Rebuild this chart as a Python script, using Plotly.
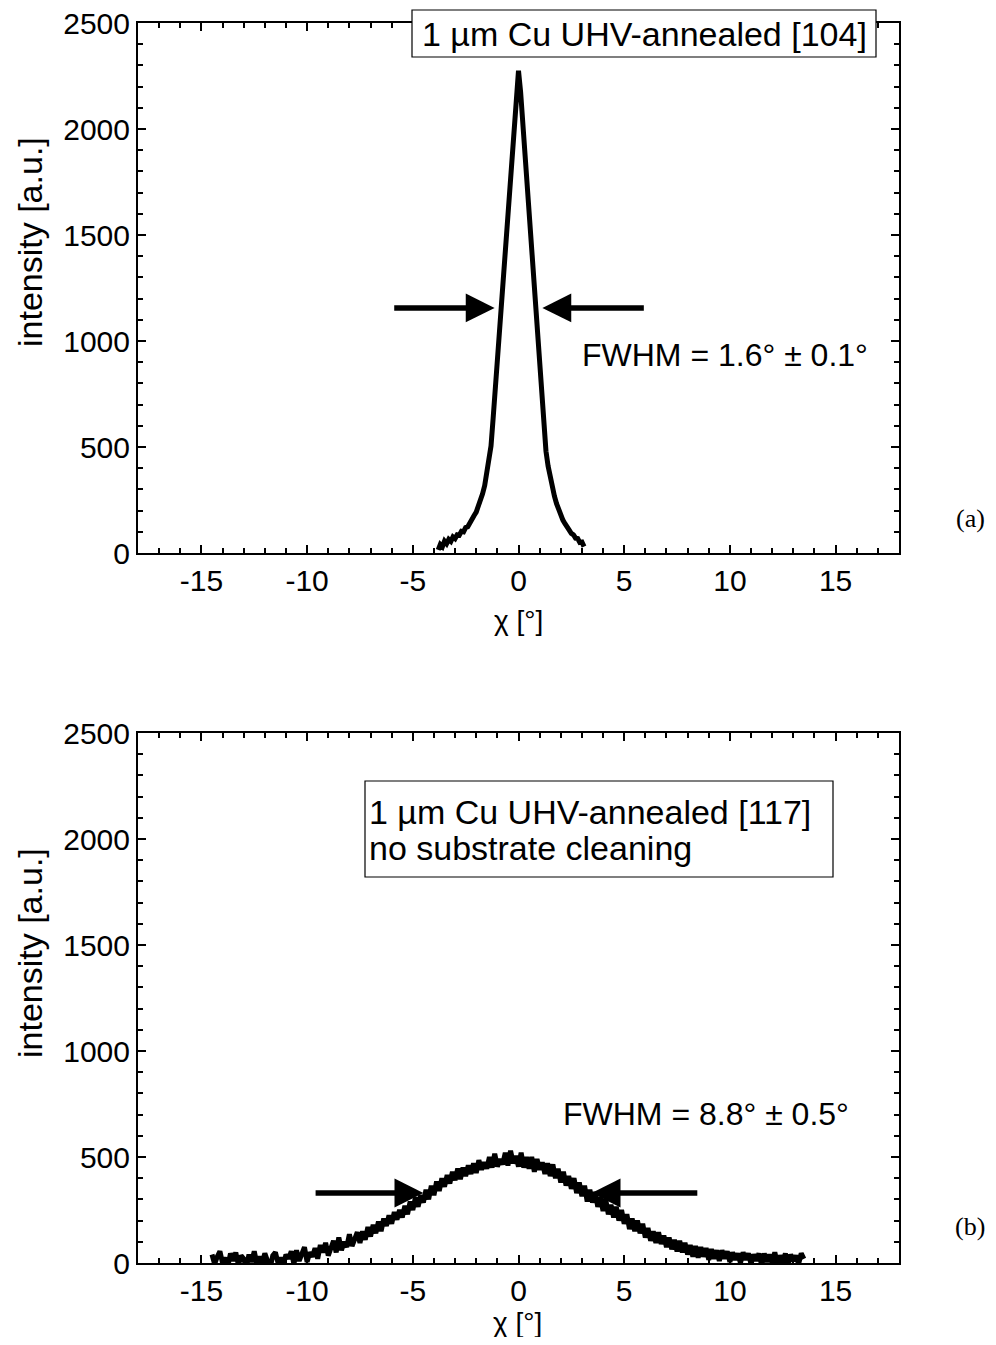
import plotly.graph_objects as go

# ---------------- data ----------------
chi_a = [-3.8, -3.7, -3.6, -3.5, -3.4, -3.3, -3.2, -3.1, -3.0, -2.9,
         -2.8, -2.7, -2.6, -2.5, -2.4, -2.3, -2.2, -2.1, -2.0, -1.9,
         -1.8, -1.7, -1.6, -1.5, -1.4, -1.3, -1.2, -1.1, -1.0, -0.9,
         -0.8, -0.7, -0.6, -0.5, -0.4, -0.3, -0.2, -0.1, 0.0, 0.1,
         0.2, 0.3, 0.4, 0.5, 0.6, 0.7, 0.8, 0.9, 1.0, 1.1,
         1.2, 1.3, 1.4, 1.5, 1.6, 1.7, 1.8, 1.9, 2.0, 2.1,
         2.2, 2.3, 2.4, 2.5, 2.6, 2.7, 2.8, 2.9, 3.0, 3.1]
int_a = [15, 40, 30, 56, 44, 64, 55, 76, 68, 86,
         84, 102, 100, 120, 124, 145, 154, 177, 193, 220,
         244, 279, 318, 370, 430, 505, 635, 775, 915, 1055,
         1195, 1335, 1475, 1615, 1755, 1895, 2035, 2170, 2275, 2175,
         2030, 1880, 1730, 1580, 1430, 1280, 1130, 985, 840, 700,
         575, 480, 410, 355, 308, 268, 233, 203, 177, 155,
         138, 118, 108, 92, 86, 70, 68, 50, 52, 30]

chi_b = [
    -14.5, -14.375, -14.25, -14.125, -14.0, -13.875, -13.75, -13.625,
    -13.5, -13.375, -13.25, -13.125, -13.0, -12.875, -12.75, -12.625,
    -12.5, -12.375, -12.25, -12.125, -12.0, -11.875, -11.75, -11.625,
    -11.5, -11.375, -11.25, -11.125, -11.0, -10.875, -10.75, -10.625,
    -10.5, -10.375, -10.25, -10.125, -10.0, -9.875, -9.75, -9.625,
    -9.5, -9.375, -9.25, -9.125, -9.0, -8.875, -8.75, -8.625,
    -8.5, -8.375, -8.25, -8.125, -8.0, -7.875, -7.75, -7.625,
    -7.5, -7.375, -7.25, -7.125, -7.0, -6.875, -6.75, -6.625,
    -6.5, -6.375, -6.25, -6.125, -6.0, -5.875, -5.75, -5.625,
    -5.5, -5.375, -5.25, -5.125, -5.0, -4.875, -4.75, -4.625,
    -4.5, -4.375, -4.25, -4.125, -4.0, -3.875, -3.75, -3.625,
    -3.5, -3.375, -3.25, -3.125, -3.0, -2.875, -2.75, -2.625,
    -2.5, -2.375, -2.25, -2.125, -2.0, -1.875, -1.75, -1.625,
    -1.5, -1.375, -1.25, -1.125, -1.0, -0.875, -0.75, -0.625,
    -0.5, -0.375, -0.25, -0.125, 0.0, 0.125, 0.25, 0.375,
    0.5, 0.625, 0.75, 0.875, 1.0, 1.125, 1.25, 1.375,
    1.5, 1.625, 1.75, 1.875, 2.0, 2.125, 2.25, 2.375,
    2.5, 2.625, 2.75, 2.875, 3.0, 3.125, 3.25, 3.375,
    3.5, 3.625, 3.75, 3.875, 4.0, 4.125, 4.25, 4.375,
    4.5, 4.625, 4.75, 4.875, 5.0, 5.125, 5.25, 5.375,
    5.5, 5.625, 5.75, 5.875, 6.0, 6.125, 6.25, 6.375,
    6.5, 6.625, 6.75, 6.875, 7.0, 7.125, 7.25, 7.375,
    7.5, 7.625, 7.75, 7.875, 8.0, 8.125, 8.25, 8.375,
    8.5, 8.625, 8.75, 8.875, 9.0, 9.125, 9.25, 9.375,
    9.5, 9.625, 9.75, 9.875, 10.0, 10.125, 10.25, 10.375,
    10.5, 10.625, 10.75, 10.875, 11.0, 11.125, 11.25, 11.375,
    11.5, 11.625, 11.75, 11.875, 12.0, 12.125, 12.25, 12.375,
    12.5, 12.625, 12.75, 12.875, 13.0, 13.125, 13.25, 13.375,
    13.5]
int_b = [
    40, -5, 30, 55, 0, 25, -15, 45,
    10, 50, -10, 35, 20, -20, 40, 5,
    55, -5, 30, 0, 45, 15, -25, 35,
    50, 0, 25, -10, 40, 20, 55, -5,
    60, 10, 45, 75, 5, 50, 30, 70,
    20, 85, 50, 95, 35, 70, 105, 50,
    120, 60, 100, 75, 135, 80, 115, 145,
    95, 150, 110, 170, 125, 180, 140, 195,
    150, 210, 175, 225, 185, 240, 205, 250,
    215, 270, 230, 290, 250, 310, 265, 320,
    285, 345, 300, 365, 320, 385, 340, 400,
    360, 415, 375, 430, 390, 445, 395, 450,
    410, 460, 420, 470, 425, 485, 440, 475,
    445, 500, 450, 515, 455, 490, 465, 520,
    460, 530, 470, 505, 455, 520, 450, 500,
    445, 500, 430, 490, 440, 475, 420, 470,
    410, 465, 400, 445, 380, 430, 365, 410,
    350, 400, 330, 380, 315, 365, 290, 345,
    285, 335, 265, 310, 245, 300, 230, 275,
    215, 265, 200, 250, 185, 230, 160, 210,
    150, 200, 140, 185, 120, 165, 105, 150,
    95, 145, 90, 130, 75, 120, 65, 110,
    55, 105, 50, 95, 40, 85, 30, 80,
    25, 75, 30, 70, 15, 65, 20, 60,
    10, 60, 20, 55, 5, 50, 15, 45,
    0, 50, 15, 45, -5, 40, 10, 45,
    -10, 45, 5, 40, 0, 50, -5, 35,
    5, 45, -10, 40, 10, 35, -5, 45,
    20]

x_tickvals = [-15, -10, -5, 0, 5, 10, 15]
x_ticktext = ["-15", "-10", "-5", "0", "5", "10", "15"]
y_tickvals = [0, 500, 1000, 1500, 2000, 2500]
y_ticktext = ["0", "500", "1000", "1500", "2000", "2500"]

label_a = "1 µm Cu UHV-annealed [104]"
label_b1 = "1 µm Cu UHV-annealed [117]"
label_b2 = "no substrate cleaning"
fwhm_a = "FWHM = 1.6° ± 0.1°"
fwhm_b = "FWHM = 8.8° ± 0.5°"
x_title = "χ [°]"
y_title = "intensity [a.u.]"

# ---------------- figure ----------------
# the page body has an 8px margin, so the figure is sized to fit inside the window
OFF = 8
W, H = 980, 1329
FONT = "Liberation Sans, Arial, sans-serif"
SERIF = "Liberation Serif, Times New Roman, serif"


def px(xp):
    return (xp - OFF) / W


def py(yp):
    return 1 - (yp - OFF) / H


fig = go.Figure()
fig.add_trace(go.Scatter(x=chi_a, y=int_a, mode="lines",
                         line=dict(color="black", width=5),
                         xaxis="x", yaxis="y", showlegend=False))
fig.add_trace(go.Scatter(x=chi_b, y=int_b, mode="lines",
                         line=dict(color="black", width=5),
                         xaxis="x2", yaxis="y2", showlegend=False))

xdom = [px(138), px(899)]


def xax(anchor):
    return dict(domain=xdom, anchor=anchor, range=[-18, 18], automargin=False,
                tickvals=x_tickvals, ticktext=x_ticktext,
                ticks="inside", ticklen=8, tickwidth=2, tickcolor="black",
                minor=dict(ticks="inside", ticklen=5, tickwidth=1.5,
                           tickcolor="black", dtick=1, tick0=0),
                showline=True, linewidth=2, linecolor="black", mirror="ticks",
                showgrid=False, zeroline=False, ticklabeloverflow="allow",
                tickfont=dict(family=FONT, size=30, color="black"))


def yax(anchor, dom):
    return dict(domain=dom, anchor=anchor, range=[0, 2500], automargin=False,
                tickvals=y_tickvals, ticktext=y_ticktext,
                ticks="inside", ticklen=8, tickwidth=2, tickcolor="black",
                minor=dict(ticks="inside", ticklen=5, tickwidth=1.5,
                           tickcolor="black", dtick=100, tick0=0),
                showline=True, linewidth=2, linecolor="black", mirror="ticks",
                showgrid=False, zeroline=False, ticklabeloverflow="allow",
                tickfont=dict(family=FONT, size=30, color="black"))


fig.update_layout(
    width=W, height=H,
    margin=dict(l=0, r=0, t=0, b=0, autoexpand=False),
    paper_bgcolor="white", plot_bgcolor="white",
    xaxis=xax("y"),
    yaxis=yax("x", [py(553), py(23)]),
    xaxis2=xax("y2"),
    yaxis2=yax("x2", [py(1263), py(733)]),
    font=dict(family=FONT, color="black"),
)

shapes = [
    dict(type="rect", xref="paper", yref="paper",
         x0=px(412), x1=px(876), y0=py(57), y1=py(10),
         line=dict(color="black", width=1.2), fillcolor="white", layer="above"),
    dict(type="rect", xref="paper", yref="paper",
         x0=px(365), x1=px(833), y0=py(877), y1=py(781),
         line=dict(color="black", width=1.2), fillcolor="white", layer="above"),
]
fig.update_layout(shapes=shapes)


def text(t, xp, yp, size, family=FONT, xanchor="center", angle=0):
    return dict(text=t, xref="paper", yref="paper", x=px(xp), y=py(yp),
                xanchor=xanchor, yanchor="middle", showarrow=False, textangle=angle,
                borderpad=0,
                font=dict(family=family, size=size, color="black"))


ann = [
    text(label_a, 644, 34, 34),
    text(label_b1, 368, 812, 34, xanchor="left"),
    text(label_b2, 368, 848, 34, xanchor="left"),
    text(fwhm_a, 725, 355, 32),
    text(fwhm_b, 706, 1114, 32),
    text("(a)", 970, 518, 26, family=SERIF),
    text("(b)", 970, 1226, 26, family=SERIF),
    # axis titles
    text(x_title, 518, 620, 28),
    text(x_title, 517, 1322, 28),
    text(y_title, 30, 242, 34, angle=-90),
    text(y_title, 30, 953, 34, angle=-90),
]


def arrow(xref, yref, tip_x, tail_x, yv):
    return dict(text="", xref=xref, yref=yref, axref=xref, ayref=yref,
                x=tip_x, y=yv, ax=tail_x, ay=yv, showarrow=True,
                arrowhead=2, arrowsize=1.05, arrowwidth=5.5, arrowcolor="black",
                standoff=0)


ann.append(arrow("x", "y", -1.13, -5.95, 1156))
ann.append(arrow("x", "y", 1.13, 6.0, 1156))
ann.append(arrow("x2", "y2", -4.5, -9.67, 330))
ann.append(arrow("x2", "y2", 3.46, 8.53, 330))

fig.update_layout(annotations=ann)

fig.write_html("out.html")
